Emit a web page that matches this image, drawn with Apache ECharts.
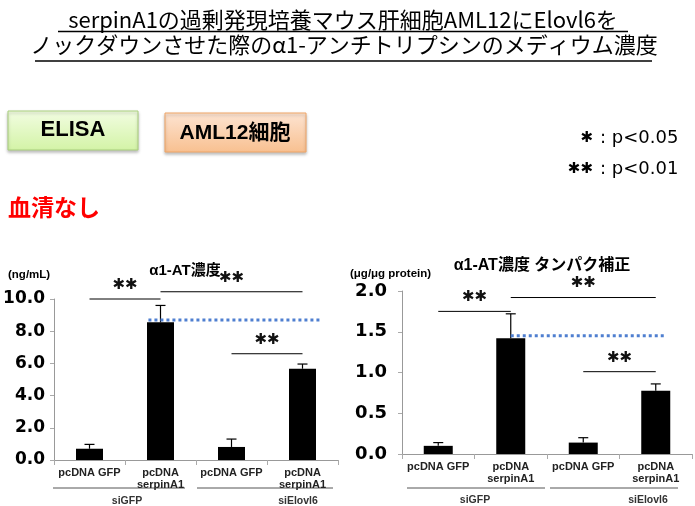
<!DOCTYPE html>
<html>
<head>
<meta charset="utf-8">
<script src="https://cdn.jsdelivr.net/npm/echarts@6/dist/echarts.min.js"></script>
<style>
  html, body { margin: 0; padding: 0; background: #fff; }
  #chart { width: 695px; height: 506px; }
</style>
</head>
<body>
<div id="chart"></div>
<script>
// Categories and groups shared by both panels
const categories = ['pcDNA GFP', 'pcDNA\nserpinA1', 'pcDNA GFP', 'pcDNA\nserpinA1'];
const groups = ['siGFP', 'siElovl6'];

// α1-AT concentration in medium (ng/mL): mean and upper error
const concValues = [0.70, 8.55, 0.81, 5.67];
const concErrors = [0.27, 1.05, 0.49, 0.29];
const concTicks = ['0.0', '2.0', '4.0', '6.0', '8.0', '10.0'];

// α1-AT normalised to total protein (μg/μg protein)
const protValues = [0.10, 1.42, 0.14, 0.775];
const protErrors = [0.04, 0.30, 0.06, 0.085];
const protTicks = ['0.0', '0.5', '1.0', '1.5', '2.0'];

// Significance brackets: [from category, to category, height]
const concBrackets = [[0, 1, 10.0], [1, 3, 10.45], [2, 3, 6.6]];
const protBrackets = [[0, 1, 1.75], [1, 3, 1.92], [2, 3, 1.01]];

// Dotted reference level: [from, to, level]
const concRef = [0.83, 3.27, 8.7];
const protRef = [1.0, 3.15, 1.45];

const CJK = "'Liberation Sans','Noto Sans CJK JP'";
const STAR = '\u2731\u2731';

function errorRender(params, api) {
  const idx = api.value(0);
  const v = api.value(1);
  const e = api.value(2);
  const p0 = api.coord([idx, v]);
  const p1 = api.coord([idx, v + e]);
  const cap = 5;
  return {
    type: 'group',
    children: [
      { type: 'line', shape: { x1: p0[0], y1: p0[1], x2: p1[0], y2: p1[1] }, style: { stroke: '#000', lineWidth: 1.2 } },
      { type: 'line', shape: { x1: p1[0] - cap, y1: p1[1], x2: p1[0] + cap, y2: p1[1] }, style: { stroke: '#000', lineWidth: 1.2 } }
    ]
  };
}

function bracketRender(params, api) {
  const a = api.coord([api.value(0), api.value(2)]);
  const b = api.coord([api.value(1), api.value(2)]);
  return {
    type: 'group',
    children: [
      { type: 'line', shape: { x1: a[0], y1: a[1], x2: b[0], y2: b[1] }, style: { stroke: '#000', lineWidth: 1 } },
      { type: 'text', x: (a[0] + b[0]) / 2, y: a[1] - 14,
        style: { text: STAR, fontSize: 15, fontFamily: 'DejaVu Sans', fill: '#111', align: 'center', verticalAlign: 'middle' } }
    ]
  };
}

function refRender(params, api) {
  const a = api.coord([api.value(0), api.value(2)]);
  const b = api.coord([api.value(1), api.value(2)]);
  return {
    type: 'line',
    shape: { x1: a[0], y1: a[1], x2: b[0], y2: b[1] },
    style: { stroke: '#4f7fd0', lineWidth: 3, lineDash: [3, 3] }
  };
}

function catAxis(gridIndex) {
  return {
    type: 'category', gridIndex: gridIndex, data: categories,
    axisLine: { onZero: false, lineStyle: { color: '#999', width: 1 } },
    axisTick: { show: true, length: 5, lineStyle: { color: '#aaa' } },
    axisLabel: { interval: 0, margin: 7, fontSize: 11, fontWeight: 'bold', color: '#222', lineHeight: 12, fontFamily: 'Liberation Sans' }
  };
}

function hiddenAxis(gridIndex) {
  return { type: 'value', gridIndex: gridIndex, min: -0.5, max: 3.5, show: false };
}

function valAxis(gridIndex, max, interval, ticks, size, margin) {
  return {
    type: 'value', gridIndex: gridIndex, min: 0, max: max, interval: interval,
    splitLine: { show: false },
    axisLine: { show: true, onZero: false, lineStyle: { color: '#999', width: 1 } },
    axisTick: { show: true, length: 4, lineStyle: { color: '#aaa' } },
    axisLabel: {
      margin: margin, fontSize: size, fontWeight: 'bold', color: '#000', fontFamily: 'DejaVu Sans',
      formatter: function (v) { return ticks[Math.round(v / interval)]; }
    }
  };
}

const chart = echarts.init(document.getElementById('chart'), null, { renderer: 'canvas' });

function txt(text, x, y, size, opts) {
  opts = opts || {};
  return {
    type: 'text', x: x, y: y, silent: true,
    style: Object.assign({
      text: text, fontSize: size, fontFamily: CJK, fill: '#000',
      align: 'center', verticalAlign: 'middle'
    }, opts)
  };
}
function hline(x1, x2, y, color, w) {
  return { type: 'line', silent: true, shape: { x1: x1, y1: y, x2: x2, y2: y }, style: { stroke: color, lineWidth: w } };
}

const graphics = [
  // heading with underlines
  txt('serpinA1の過剰発現培養マウス肝細胞AML12にElovl6を', 343, 20, 22, { fontFamily: "'Noto Sans CJK JP'" }),
  hline(58, 628, 31.5, '#000', 1.5),
  txt('ノックダウンさせた際のα1-アンチトリプシンのメディウム濃度', 344, 45, 22, { fontFamily: "'Noto Sans CJK JP'" }),
  hline(35, 652, 61, '#000', 1.5),

  // method and cell-line tags
  { type: 'rect', silent: true, shape: { x: 8, y: 111, width: 130, height: 39 },
    style: {
      fill: new echarts.graphic.LinearGradient(0, 0, 0, 1, [{ offset: 0, color: '#f2fde2' }, { offset: 1, color: '#d3f3a6' }]),
      stroke: '#a9cf7c', lineWidth: 1, shadowBlur: 3, shadowOffsetY: 2, shadowColor: 'rgba(0,0,0,0.25)'
    } },
  txt('ELISA', 73, 130, 22, { fontWeight: 'bold' }),
  { type: 'rect', silent: true, shape: { x: 165, y: 113, width: 141, height: 39 },
    style: {
      fill: new echarts.graphic.LinearGradient(0, 0, 0, 1, [{ offset: 0, color: '#fde4d2' }, { offset: 1, color: '#f8c090' }]),
      stroke: '#f0a566', lineWidth: 1, shadowBlur: 3, shadowOffsetY: 2, shadowColor: 'rgba(0,0,0,0.25)'
    } },
  txt('AML12細胞', 235, 133, 21, { fontWeight: 'bold' }),

  // significance key
  txt('\u2731', 593, 138, 15, { fontFamily: 'DejaVu Sans', align: 'right' }),
  txt(': p<0.05', 600, 138, 18, { fontFamily: 'DejaVu Sans', align: 'left' }),
  txt(STAR, 593, 169, 15, { fontFamily: 'DejaVu Sans', align: 'right' }),
  txt(': p<0.01', 600, 169, 18, { fontFamily: 'DejaVu Sans', align: 'left' }),

  // condition
  txt('血清なし', 8, 207, 23, { fontWeight: 'bold', fill: '#ff0000', align: 'left', fontFamily: "'Noto Sans CJK JP'" }),

  // panel titles and units
  txt('α1-AT濃度', 185, 271, 15, { fontWeight: 'bold' }),
  txt('(ng/mL)', 8, 275, 11.5, { fontWeight: 'bold', align: 'left', fontFamily: 'Liberation Sans' }),
  txt('α1-AT濃度 タンパク補正', 542, 266, 16, { fontWeight: 'bold' }),
  txt('(μg/μg protein)', 350, 274, 11.5, { fontWeight: 'bold', align: 'left', fontFamily: 'Liberation Sans' }),

  // siRNA group brackets under the category labels
  hline(53, 185, 488, '#555', 1),
  hline(197, 333, 488, '#555', 1),
  txt(groups[0], 127, 501, 10.5, { fontWeight: 'bold', fill: '#333', fontFamily: 'Liberation Sans' }),
  txt(groups[1], 298, 501, 10.5, { fontWeight: 'bold', fill: '#333', fontFamily: 'Liberation Sans' }),
  hline(407, 545, 488, '#555', 1),
  hline(550, 678, 488, '#555', 1),
  txt(groups[0], 475, 500, 10.5, { fontWeight: 'bold', fill: '#333', fontFamily: 'Liberation Sans' }),
  txt(groups[1], 648, 500, 10.5, { fontWeight: 'bold', fill: '#333', fontFamily: 'Liberation Sans' })
];

chart.setOption({
  animation: false,
  backgroundColor: '#fff',
  grid: [
    { left: 54, top: 299, width: 284, height: 161 },
    { left: 402, top: 291, width: 290, height: 163 }
  ],
  xAxis: [catAxis(0), catAxis(1), hiddenAxis(0), hiddenAxis(1)],
  yAxis: [
    valAxis(0, 10, 2, concTicks, 17, 9),
    valAxis(1, 2, 0.5, protTicks, 18, 15)
  ],
  graphic: graphics,
  series: [
    { type: 'bar', xAxisIndex: 0, yAxisIndex: 0, data: concValues, barWidth: 27, itemStyle: { color: '#000' } },
    { type: 'custom', xAxisIndex: 0, yAxisIndex: 0, renderItem: errorRender,
      data: concValues.map(function (v, i) { return [i, v, concErrors[i]]; }) },
    { type: 'custom', xAxisIndex: 2, yAxisIndex: 0, renderItem: refRender, data: [concRef], z: 3 },
    { type: 'custom', xAxisIndex: 2, yAxisIndex: 0, renderItem: bracketRender, data: concBrackets },

    { type: 'bar', xAxisIndex: 1, yAxisIndex: 1, data: protValues, barWidth: 29, itemStyle: { color: '#000' } },
    { type: 'custom', xAxisIndex: 1, yAxisIndex: 1, renderItem: errorRender,
      data: protValues.map(function (v, i) { return [i, v, protErrors[i]]; }) },
    { type: 'custom', xAxisIndex: 3, yAxisIndex: 1, renderItem: refRender, data: [protRef], z: 3 },
    { type: 'custom', xAxisIndex: 3, yAxisIndex: 1, renderItem: bracketRender, data: protBrackets }
  ]
});
</script>
</body>
</html>
